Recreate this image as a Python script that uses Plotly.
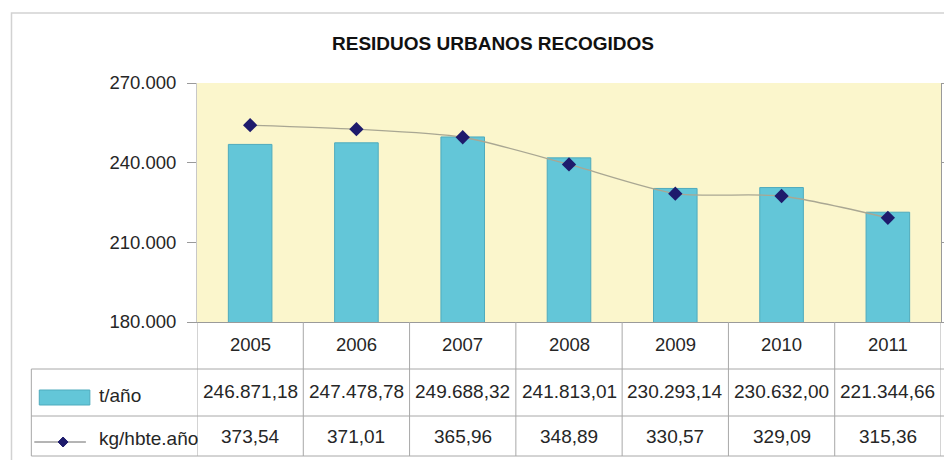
import plotly.graph_objects as go

# ---------------- data ----------------
years = ["2005", "2006", "2007", "2008", "2009", "2010", "2011"]
tonnes_per_year = [246871.18, 247478.78, 249688.32, 241813.01, 230293.14, 230632.00, 221344.66]
kg_per_inhab_year = [373.54, 371.01, 365.96, 348.89, 330.57, 329.09, 315.36]
y_ticks = [180000, 210000, 240000, 270000]
y_tick_labels = ["180.000", "210.000", "240.000", "270.000"]
y2_ticks = [250, 300, 350, 400]
series_names = ["t/año", "kg/hbte.año"]
title_text = "RESIDUOS URBANOS RECOGIDOS"


def es(v):
    s = f"{v:,.2f}"
    return s.replace(",", "X").replace(".", ",").replace("X", ".")


# ---------------- geometry (reference pixels; page body has an 8px margin) ----------------
OFF = 8
W, H = 952 - OFF, 468 - 2 * OFF
PLOT_L, PLOT_R, PLOT_T, PLOT_B = 197, 947, 83, 322   # reference-pixel plot box
L = PLOT_L - OFF
T = PLOT_T - OFF
R = 952 - PLOT_R
B = (468 - OFF) - PLOT_B
PW = PLOT_R - PLOT_L
PH = PLOT_B - PLOT_T


def px(x):
    return (x - PLOT_L) / PW


def py(y):
    return (PLOT_B - y) / PH


BAR = "#63C6D8"
BAR_LINE = "#4FABBD"
GRID = "#A8A8A8"
FONT = "Liberation Sans"
TXT = "#262626"

fig = go.Figure()
fig.add_trace(go.Bar(
    x=years, y=tonnes_per_year, name=series_names[0], width=0.41,
    marker=dict(color=BAR, line=dict(color=BAR_LINE, width=1)),
    yaxis="y", showlegend=False, hoverinfo="skip",
))
fig.add_trace(go.Scatter(
    x=years, y=kg_per_inhab_year, name=series_names[1], yaxis="y2",
    mode="lines+markers",
    line=dict(shape="spline", smoothing=0.7, color="#A9A793", width=1.3),
    marker=dict(symbol="diamond", size=11, color="#1E1B6C"),
    showlegend=False, hoverinfo="skip",
))

shapes = []
# outer chart border
shapes.append(dict(type="rect", xref="paper", yref="paper",
                   x0=px(10), x1=px(960), y0=py(13), y1=py(475),
                   line=dict(color="#D2D2D2", width=1.5), layer="below"))
# table vertical lines at category boundaries
for k in range(len(years) + 1):
    shapes.append(dict(type="line", xref="x", yref="paper",
                       x0=k - 0.5, x1=k - 0.5, y0=0, y1=py(456),
                       line=dict(color=GRID, width=1)))
# table horizontal lines
for yy in (369, 416, 456):
    shapes.append(dict(type="line", xref="paper", yref="paper",
                       x0=px(30), x1=px(955), y0=py(yy), y1=py(yy),
                       line=dict(color=GRID, width=1)))
# table left border
shapes.append(dict(type="line", xref="paper", yref="paper",
                   x0=px(30), x1=px(30), y0=py(369), y1=py(456),
                   line=dict(color=GRID, width=1)))
# legend key: bar swatch
shapes.append(dict(type="rect", xref="paper", yref="paper",
                   x0=px(38), x1=px(89), y0=py(390), y1=py(405),
                   fillcolor=BAR, line=dict(color=BAR_LINE, width=1)))
# legend key: line + diamond
shapes.append(dict(type="line", xref="paper", yref="paper",
                   x0=px(33), x1=px(85), y0=py(442), y1=py(442),
                   line=dict(color="#6A6A6A", width=1)))
cx, cy, d = 62, 442, 5
path = (f"M {px(cx - d)} {py(cy)} L {px(cx)} {py(cy - d)} "
        f"L {px(cx + d)} {py(cy)} L {px(cx)} {py(cy + d)} Z")
shapes.append(dict(type="path", xref="paper", yref="paper", path=path,
                   fillcolor="#1E1B6C", line=dict(color="#1E1B6C", width=1)))

annotations = []
annotations.append(dict(text=f"<b>{title_text}</b>", xref="paper", yref="paper",
                        x=px(331), y=py(43), xanchor="left", yanchor="middle",
                        showarrow=False, font=dict(family=FONT, size=19, color="#111")))
for i, yr in enumerate(years):
    annotations.append(dict(text=yr, xref="x", yref="paper", x=i, y=py(344),
                            xanchor="center", yanchor="middle", showarrow=False,
                            font=dict(family=FONT, size=18.5, color=TXT)))
    annotations.append(dict(text=es(tonnes_per_year[i]), xref="x", yref="paper", x=i, y=py(391),
                            xanchor="center", yanchor="middle", showarrow=False,
                            font=dict(family=FONT, size=19, color=TXT)))
    annotations.append(dict(text=es(kg_per_inhab_year[i]), xref="x", yref="paper", x=i, y=py(436),
                            xanchor="center", yanchor="middle", showarrow=False,
                            font=dict(family=FONT, size=19, color=TXT)))
annotations.append(dict(text=series_names[0], xref="paper", yref="paper", x=px(96), y=py(395),
                        xanchor="left", yanchor="middle", showarrow=False,
                        font=dict(family=FONT, size=19, color=TXT)))
annotations.append(dict(text=series_names[1], xref="paper", yref="paper", x=px(96), y=py(438),
                        xanchor="left", yanchor="middle", showarrow=False,
                        font=dict(family=FONT, size=19, color=TXT)))

fig.update_layout(
    width=W, height=H,
    margin=dict(l=L, r=R, t=T, b=B, pad=0),
    paper_bgcolor="white", plot_bgcolor="#FBF6CC",
    font=dict(family=FONT, size=18, color=TXT),
    xaxis=dict(type="category", range=[-0.5, len(years) - 0.5], showticklabels=False,
               ticks="", showline=True, linecolor="#9A9A9A", linewidth=1,
               showgrid=False, zeroline=False, fixedrange=True),
    yaxis=dict(range=[y_ticks[0], y_ticks[-1]], tickvals=y_ticks, ticktext=y_tick_labels,
               ticks="outside", ticklen=9, tickcolor="#9A9A9A", tickwidth=1,
               showline=True, linecolor="#C8C8C8", linewidth=1,
               showgrid=False, zeroline=False, ticklabelstandoff=7,
               tickfont=dict(family=FONT, size=18.5, color=TXT)),
    yaxis2=dict(overlaying="y", side="right", range=[y2_ticks[0], y2_ticks[-1]],
                tickvals=y2_ticks, showticklabels=False, ticks="outside", ticklen=6,
                tickcolor="#9A9A9A", showline=True, linecolor="#9A9A9A", linewidth=1,
                showgrid=False, zeroline=False),
    shapes=shapes, annotations=annotations,
    showlegend=False,
)

fig.write_html("out.html", config={"displayModeBar": False})
